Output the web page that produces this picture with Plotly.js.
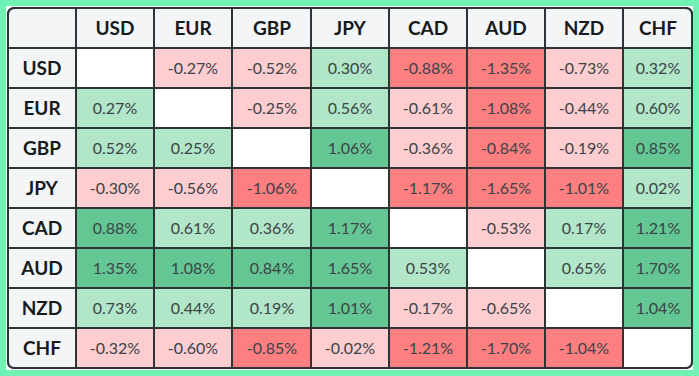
<!DOCTYPE html>
<html>
<head>
<meta charset="utf-8">
<script src="https://cdn.plot.ly/plotly-3.0.1.min.js"></script>
<style>
  html, body { margin: 0; padding: 0; background: #ffffff; }
  #frame { width: 699px; height: 376px; box-sizing: border-box; border: 6px solid #70f2b5; background: #ffffff; }
  #chart { width: 687px; height: 364px; }
</style>
</head>
<body>
<div id="frame"><div id="chart"></div></div>
<script>
// ---- data ----
const currencies = ["USD", "EUR", "GBP", "JPY", "CAD", "AUD", "NZD", "CHF"];
const usdRow = [null, -0.27, -0.52, 0.30, -0.88, -1.35, -0.73, 0.32];
const eurRow = [0.27, null, -0.25, 0.56, -0.61, -1.08, -0.44, 0.60];
const gbpRow = [0.52, 0.25, null, 1.06, -0.36, -0.84, -0.19, 0.85];
const jpyRow = [-0.30, -0.56, -1.06, null, -1.17, -1.65, -1.01, 0.02];
const cadRow = [0.88, 0.61, 0.36, 1.17, null, -0.53, 0.17, 1.21];
const audRow = [1.35, 1.08, 0.84, 1.65, 0.53, null, 0.65, 1.70];
const nzdRow = [0.73, 0.44, 0.19, 1.01, -0.17, -0.65, null, 1.04];
const chfRow = [-0.32, -0.60, -0.85, -0.02, -1.21, -1.70, -1.04, null];
const rows = [usdRow, eurRow, gbpRow, jpyRow, cadRow, audRow, nzdRow, chfRow];

// ---- layout geometry (pixels) ----
const headerColWidth = 68;
const dataColWidths = [78.2, 78.2, 78.2, 78.2, 78.2, 78.2, 78.2, 68.6];
const rowHeight = 40;

function cumEdges(start, widths) {
  const e = [start];
  widths.forEach(w => e.push(e[e.length - 1] + w));
  return e;
}
const xData = cumEdges(headerColWidth, dataColWidths);
const xAll = cumEdges(0, [headerColWidth].concat(dataColWidths));
const yData = cumEdges(rowHeight, rows.map(() => rowHeight));
const totalW = xAll[xAll.length - 1];
const totalH = yData[yData.length - 1];

// colour categories: 0 header, 1 empty, 2 light red, 3 strong red, 4 light green, 5 strong green
const colors = ["#f4f5f7", "#ffffff", "#fdcdcf", "#fd7f80", "#b1e6c8", "#64c793"];
function category(v) {
  if (v === null) return 1;
  if (v <= -0.8) return 3;
  if (v < 0) return 2;
  if (v >= 0.8) return 5;
  return 4;
}
const colorscale = [];
colors.forEach((c, i) => {
  colorscale.push([i / colors.length, c]);
  colorscale.push([Math.min(1, (i + 1) / colors.length), c]);
});

const zData = rows.map(r => r.map(category));
const tData = rows.map(r => r.map(v => v === null ? "" : v.toFixed(2) + "%"));

const common = {
  type: "heatmap",
  colorscale: colorscale,
  zmin: 0, zmax: colors.length,
  showscale: false,
  xgap: 2, ygap: 2,
  hoverinfo: "skip",
  texttemplate: "%{text}"
};

const dataTrace = Object.assign({}, common, {
  x: xData, y: yData,
  z: zData.map(r => r.map(c => c + 0.5)),
  text: tData,
  textfont: { family: "Lato", size: 16, color: "#3b4248" }
});

const colHeaderTrace = Object.assign({}, common, {
  x: xAll, y: [0, rowHeight],
  z: [xAll.slice(1).map(() => 0.5)],
  text: [[""].concat(currencies)],
  textfont: { family: "Lato", size: 19, color: "#161a1d", weight: "bold" }
});

const rowHeaderTrace = Object.assign({}, common, {
  x: [0, headerColWidth], y: yData,
  z: currencies.map(() => [0.5]),
  text: currencies.map(c => [c]),
  textfont: { family: "Lato", size: 19, color: "#161a1d", weight: "bold" }
});

// rounded outer corners (decoration)
const R = 8;
const x0 = -1, y0 = -1, x1 = totalW + 1, y1 = totalH + 1;
const lineC = "#2d3436";
function corner(cx, cy, sx, sy) {
  // cx,cy: outer corner; sx,sy: direction inward (+1/-1)
  const fill = `M ${cx},${cy} L ${cx + sx * R},${cy} Q ${cx},${cy} ${cx},${cy + sy * R} Z`;
  const arc = `M ${cx + sx * R},${cy + sy * 1} Q ${cx + sx * 1},${cy + sy * 1} ${cx + sx * 1},${cy + sy * R}`;
  return [
    { type: "path", path: fill, xref: "x", yref: "y", fillcolor: "#ffffff", line: { width: 0 }, layer: "above" },
    { type: "path", path: arc, xref: "x", yref: "y", line: { color: lineC, width: 2 }, layer: "above" }
  ];
}
const shapes = [].concat(
  corner(x0, y0, 1, 1),
  corner(x1, y0, -1, 1),
  corner(x0, y1, 1, -1),
  corner(x1, y1, -1, -1)
);

const layout = {
  width: 687, height: 364,
  margin: { l: 1, r: 0, t: 1, b: 1, pad: 0 },
  paper_bgcolor: "#ffffff",
  plot_bgcolor: lineC,
  xaxis: { range: [x0, x1], visible: false, fixedrange: true },
  yaxis: { range: [y1, y0], visible: false, fixedrange: true },
  shapes: shapes,
  showlegend: false
};

Plotly.newPlot("chart", [dataTrace, colHeaderTrace, rowHeaderTrace], layout, { staticPlot: true, displayModeBar: false });
</script>
</body>
</html>
